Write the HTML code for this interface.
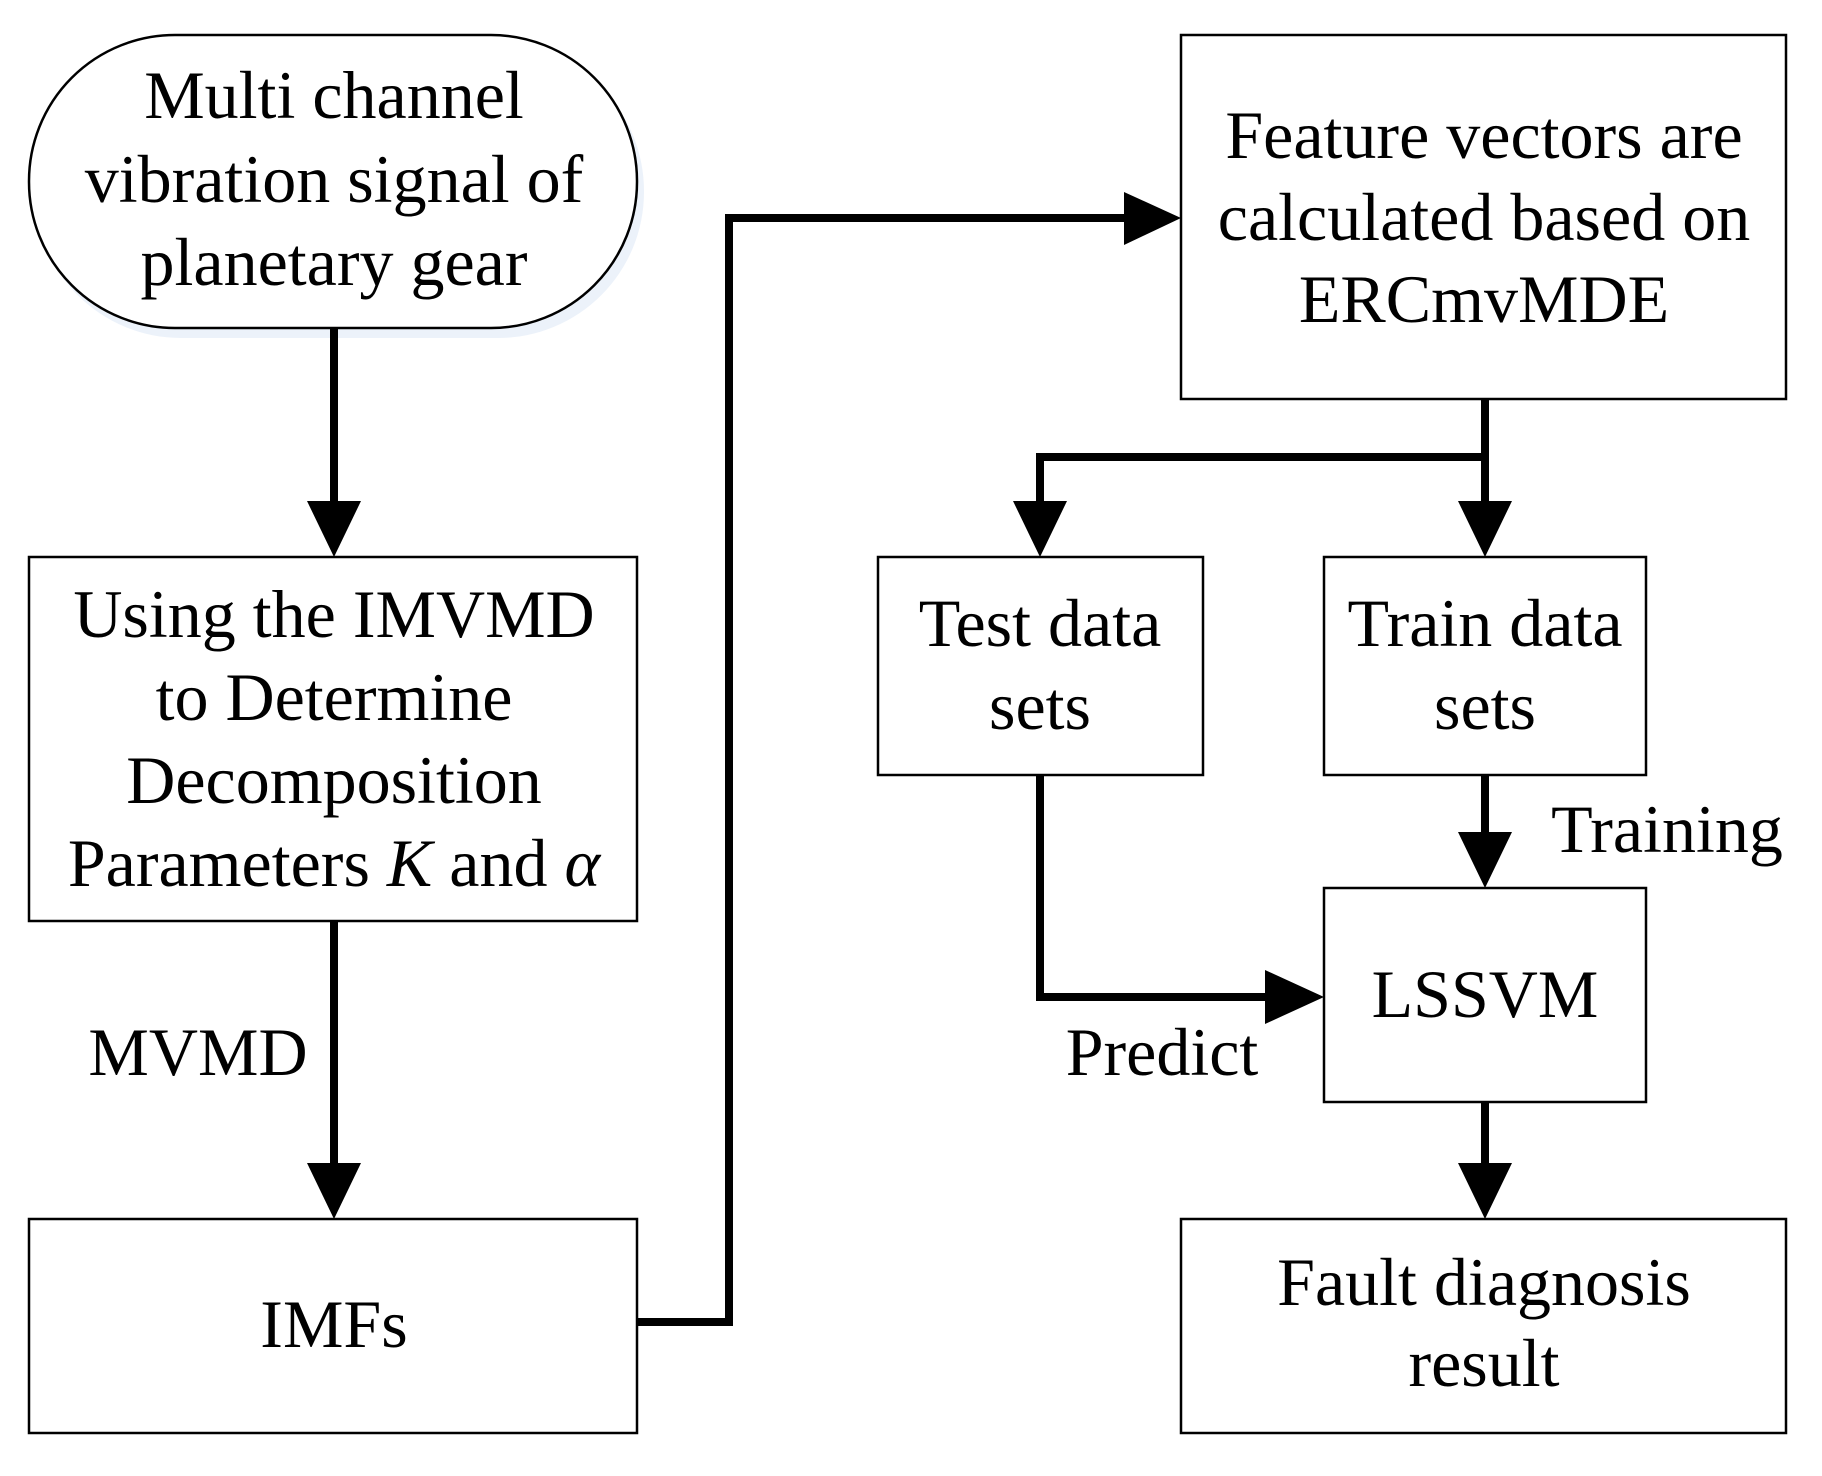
<!DOCTYPE html>
<html><head><meta charset="utf-8"><style>
html,body{margin:0;padding:0;background:#fff;width:1822px;height:1476px;overflow:hidden}
</style></head><body>
<svg width="1822" height="1476" viewBox="0 0 1822 1476" xmlns="http://www.w3.org/2000/svg">
<g fill="#dfe9f6">
<rect x="35" y="45" width="609" height="293" rx="146" opacity="0.6"/>
</g>
<g fill="#fff" stroke="#000" stroke-width="2.5">
<rect x="29" y="35" width="608" height="293" rx="146"/>
<rect x="29" y="557" width="608" height="364"/>
<rect x="29" y="1219" width="608" height="214"/>
<rect x="1181" y="35" width="605" height="364"/>
<rect x="878" y="557" width="325" height="218"/>
<rect x="1324" y="557" width="322" height="218"/>
<rect x="1324" y="888" width="322" height="214"/>
<rect x="1181" y="1219" width="605" height="214"/>
</g>
<g stroke="#000" stroke-width="8" fill="none">
<line x1="334" y1="328" x2="334" y2="505"/>
<line x1="334" y1="921" x2="334" y2="1168"/>
<polyline points="637,1322 729,1322 729,218 1130,218"/>
<line x1="1485" y1="399" x2="1485" y2="505"/>
<polyline points="1485,457 1040,457 1040,505"/>
<polyline points="1040,775 1040,997 1270,997"/>
<line x1="1485" y1="775" x2="1485" y2="838"/>
<line x1="1485" y1="1102" x2="1485" y2="1168"/>
</g>
<g fill="#000">
<polygon points="307,501 361,501 334,557"/>
<polygon points="307,1163 361,1163 334,1219"/>
<polygon points="1124,192 1124,245 1181,218"/>
<polygon points="1458,501 1512,501 1485,557"/>
<polygon points="1013,501 1067,501 1040,557"/>
<polygon points="1265,970 1265,1024 1324,997"/>
<polygon points="1458,832 1512,832 1485,888"/>
<polygon points="1458,1163 1512,1163 1485,1219"/>
</g>
<g font-family="Liberation Serif, serif" font-size="68" text-anchor="middle" fill="#000">
<text x="334" y="118">Multi channel</text>
<text x="334" y="202">vibration signal of</text>
<text x="334" y="285">planetary gear</text>
<text x="334" y="637">Using the IMVMD</text>
<text x="334" y="720">to Determine</text>
<text x="334" y="803">Decomposition</text>
<text x="334" y="886">Parameters <tspan font-style="italic">K</tspan> and <tspan font-style="italic">α</tspan></text>
<text x="334" y="1347">IMFs</text>
<text x="1484" y="158">Feature vectors are</text>
<text x="1484" y="240">calculated based on</text>
<text x="1484" y="322">ERCmvMDE</text>
<text x="1040" y="646">Test data</text>
<text x="1040" y="729">sets</text>
<text x="1485" y="646">Train data</text>
<text x="1485" y="729">sets</text>
<text x="1485" y="1017">LSSVM</text>
<text x="1484" y="1305">Fault diagnosis</text>
<text x="1484" y="1386">result</text>
<text x="198" y="1075">MVMD</text>
<text x="1162" y="1075">Predict</text>
<text x="1667" y="852">Training</text>
</g>
</svg>
</body></html>
